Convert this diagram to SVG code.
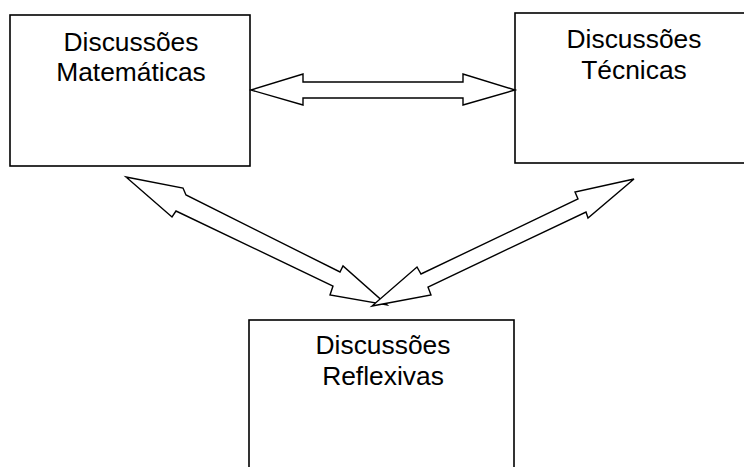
<svg xmlns="http://www.w3.org/2000/svg" width="744" height="467" viewBox="0 0 744 467">
<style>
.box{fill:#fff;stroke:#000;stroke-width:1.6}
.arr{fill:#fff;stroke:#000;stroke-width:1.4;stroke-linejoin:miter}
text{font-family:"Liberation Sans",Arial,sans-serif;font-size:26.4px;fill:#000;text-anchor:middle}
</style>
<rect width="744" height="467" fill="#fff"/>
<g id="node-matematicas">
<rect class="box" x="10" y="15" width="240" height="151"/>
<text x="131" y="51">Discussões</text>
<text x="131" y="81">Matemáticas</text>
</g>
<g id="node-tecnicas">
<rect class="box" x="515" y="13" width="238" height="150"/>
<text x="634" y="47.5">Discussões</text>
<text x="634" y="78.5">Técnicas</text>
</g>
<g id="node-reflexivas">
<rect class="box" x="249" y="320" width="265" height="170"/>
<text x="383" y="354">Discussões</text>
<text x="383" y="385">Reflexivas</text>
</g>
<g id="connectors">
<polygon class="arr" points="251,90 303,74 303,82 463,82 463,74 515,90 463,105 463,98 303,98 303,105"/>
<polygon class="arr" points="126,177 183,188 186,195 340,272 343,266 387,305 330,295 333,286 176,211 172,217"/>
<polygon class="arr" points="634,179 575,192 578,199 421,274 417,267 372,306 431,295 428,287 586,212 588,218"/>
</g>
</svg>
